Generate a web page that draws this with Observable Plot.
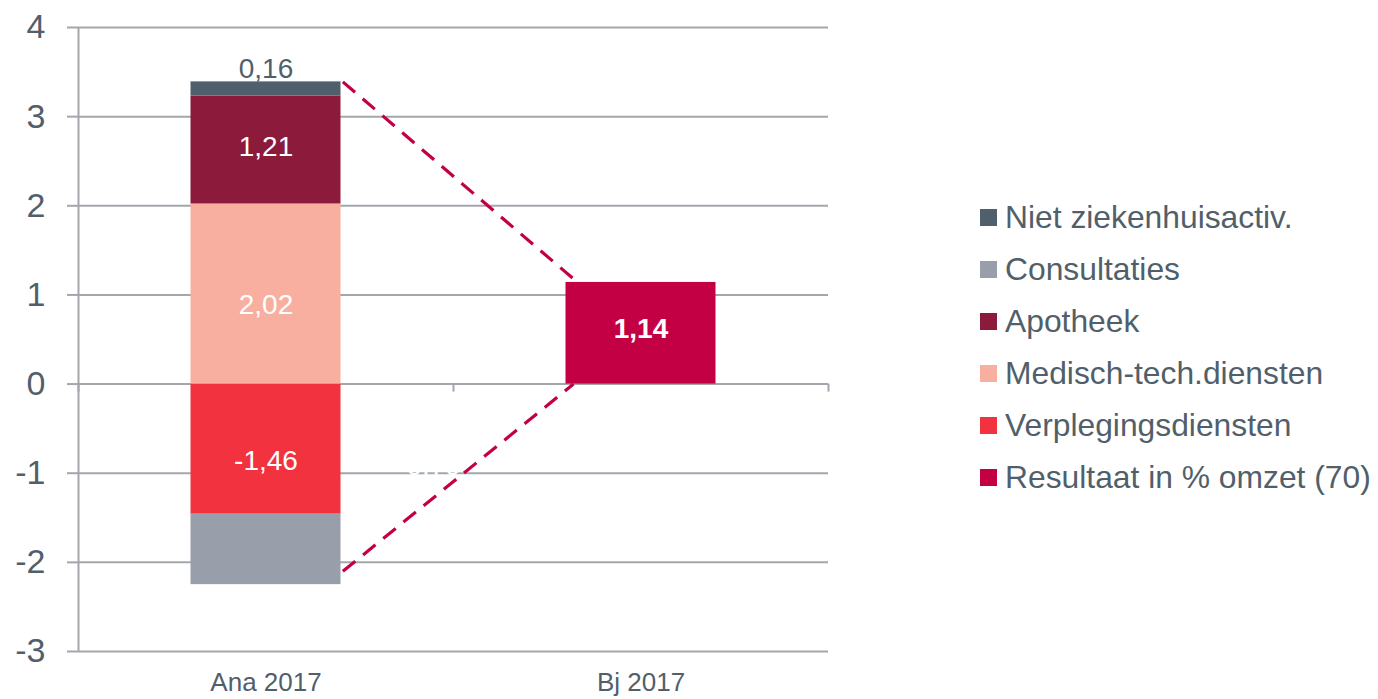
<!DOCTYPE html>
<html>
<head>
<meta charset="utf-8">
<script src="https://cdn.jsdelivr.net/npm/d3@7"></script>
<script src="https://cdn.jsdelivr.net/npm/@observablehq/plot@0.6"></script>
<style>
  body { margin: 0; background: #fff; font-family: "Liberation Sans", Arial, sans-serif; }
  #wrap { position: relative; width: 1378px; height: 699px; }
  #legend { position: absolute; left: 980px; top: 191px; color: #515f6b; font-size: 31.8px; }
  .row { height: 52px; display: flex; align-items: center; white-space: nowrap; }
  .sw { width: 17px; height: 17px; margin-right: 8px; flex: none; }
</style>
</head>
<body>
<div id="wrap"><div id="chart"></div><div id="legend"></div></div>
<script>
const categories = ["Ana 2017", "Bj 2017"];
const series = ["Niet ziekenhuisactiv.", "Consultaties", "Apotheek", "Medisch-tech.diensten", "Verplegingsdiensten", "Resultaat in % omzet (70)"];
const colors = ["#4f5f6b", "#989fab", "#8c1a3b", "#f9afa0", "#f2333f", "#c40045"];

// stacking order (input order) for Ana 2017
const anaSeries = ["Verplegingsdiensten", "Medisch-tech.diensten", "Apotheek", "Consultaties", "Niet ziekenhuisactiv."];
const anaValues = [-1.46, 2.02, 1.21, -0.79, 0.16];
const bjSeries = ["Resultaat in % omzet (70)"];
const bjValues = [1.14];

const yTicks = [-3, -2, -1, 0, 1, 2, 3, 4];

// dashed connectors between the two bars
const connectorStart = [3.39, -2.1];
const connectorEnd = [1.18, 0];

const half = 0.2;
const fmt = v => v.toFixed(2).replace(".", ",");
const table = [
  ...anaSeries.map((s, k) => ({cat: 0, series: s, value: anaValues[k]})),
  ...bjSeries.map((s, k) => ({cat: 1, series: s, value: bjValues[k]}))
].map(d => ({...d, x1: d.cat - half, x2: d.cat + half}));

const links = connectorStart.map((v, k) => ({x1: 0 + half + 0.005, y1: v, x2: 1 - half + 0.02, y2: connectorEnd[k]}));

const grid = "#a3a7ac";
const textColor = "#515f6b";

function label(name, opts) {
  return Plot.text(table, Plot.stackY({x: "cat", y: "value", text: d => d.series === name ? fmt(d.value) : null, fill: "white", fontSize: 28, ...opts}));
}

const chart = Plot.plot({
  width: 900,
  height: 699,
  marginLeft: 78,
  marginRight: 72,
  marginTop: 27,
  marginBottom: 48,
  style: {fontFamily: "'Liberation Sans', Arial, sans-serif", background: "#fff", overflow: "visible"},
  x: {domain: [-0.5, 1.5], axis: null},
  y: {domain: [-3, 4], axis: null},
  color: {domain: series, range: colors},
  marks: [
    Plot.ruleY(yTicks, {stroke: grid, strokeWidth: 2}),
    Plot.ruleX([-0.5], {y1: -3, y2: 4, stroke: grid, strokeWidth: 2}),
    Plot.ruleX([-0.5, 0.5, 1.5], {y1: 0, y2: -0.09, stroke: grid, strokeWidth: 2}),
    Plot.axisY(yTicks, {tickSize: 11, tickPadding: 22, stroke: grid, strokeWidth: 2, fill: textColor, fontSize: 34, tickFormat: d => String(d)}),
    Plot.axisX([0, 1], {tickSize: 0, tickPadding: 21, fill: textColor, fontSize: 26, tickFormat: i => categories[i]}),
    Plot.rectY(table, Plot.stackY({x1: "x1", x2: "x2", y: "value", fill: "series"})),
    Plot.link(links, {x1: "x1", y1: "y1", x2: "x2", y2: "y2", stroke: "#c40045", strokeWidth: 3.2, strokeDasharray: "16,10"}),
    label("Apotheek", {dy: -3}),
    label("Medisch-tech.diensten", {dy: 11}),
    label("Verplegingsdiensten", {dy: 12}),
    label("Resultaat in % omzet (70)", {dy: -4, fontWeight: "bold"}),
    label("Consultaties", {dx: 163, dy: -83}),
    Plot.text(table, Plot.stackY2({x: "cat", y: "value", text: d => d.series === "Niet ziekenhuisactiv." ? fmt(d.value) : null, fill: textColor, fontSize: 28, dy: -13}))
  ]
});
document.getElementById("chart").appendChild(chart);

const legend = document.getElementById("legend");
series.forEach((s, k) => {
  const row = document.createElement("div");
  row.className = "row";
  const sw = document.createElement("span");
  sw.className = "sw";
  sw.style.background = colors[k];
  const t = document.createElement("span");
  t.textContent = s;
  row.appendChild(sw); row.appendChild(t);
  legend.appendChild(row);
});
</script>
</body>
</html>
